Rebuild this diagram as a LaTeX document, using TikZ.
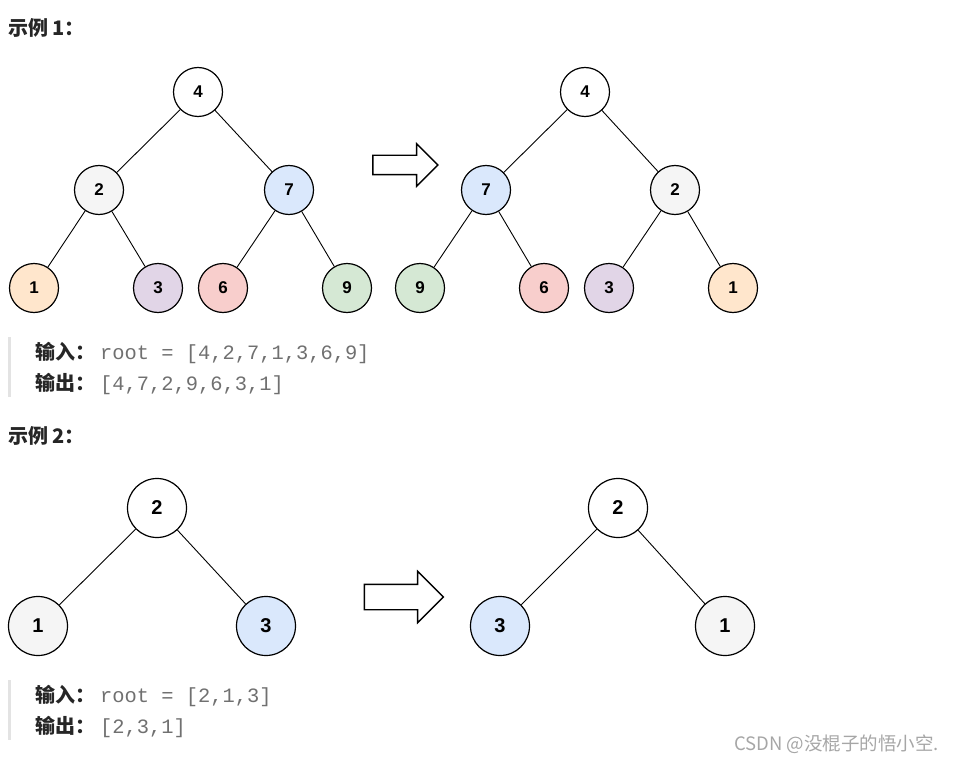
\documentclass[tikz,border=0pt]{standalone}
\usepackage{fontspec}
\setmainfont{Liberation Sans}
\setmonofont{Liberation Mono}
\newfontfamily\cjkfont{Noto Sans CJK SC}
\usetikzlibrary{shapes.arrows,positioning}
\definecolor{nGray}{HTML}{F5F5F5}
\definecolor{nBlue}{HTML}{DAE8FC}
\definecolor{nOrange}{HTML}{FFE6CC}
\definecolor{nPurple}{HTML}{E1D5E7}
\definecolor{nRed}{HTML}{F8CECC}
\definecolor{nGreen}{HTML}{D5E8D4}
\definecolor{titleText}{HTML}{262626}
\definecolor{codeText}{HTML}{707070}
\definecolor{barGray}{HTML}{E3E3E3}
\definecolor{markGray}{HTML}{A6A6A6}
\begin{document}
\begin{tikzpicture}[x=1pt,y=-1pt,
    tnode/.style={circle,draw,line width=1.2pt,minimum size=49pt,inner sep=0pt,font=\bfseries\fontsize{17}{17}\selectfont},
    bignode/.style={tnode,minimum size=59pt,font=\bfseries\fontsize{20}{20}\selectfont},
    edge/.style={line width=0.9pt},
    bigarrow/.style={single arrow,draw,line width=1.4pt,fill=white,inner xsep=0pt,single arrow head indent=0pt},
    title/.style={anchor=base west,inner sep=0pt,font=\cjkfont\bfseries\fontsize{20}{20}\selectfont,text=titleText},
    label/.style={anchor=base west,inner sep=0pt,font=\cjkfont\bfseries\fontsize{20}{20}\selectfont,text=titleText},
    code/.style={anchor=base west,inner sep=0pt,font=\ttfamily\fontsize{20.4}{20.4}\selectfont,text=codeText},
    quotebar/.style={fill=barGray}
]
    \useasboundingbox (0,0) rectangle (968,762);

    % example 1
    \node[title] (t1) at (8,36) {示例 1：};

    \node[tnode] (a4) at (198,92) {4};
    \node[tnode,fill=nGray] (a2) at (99,190) {2};
    \node[tnode,fill=nBlue] (a7) at (289,190) {7};
    \node[tnode,fill=nOrange] (a1) at (34,288) {1};
    \node[tnode,fill=nPurple] (a3) at (158,288) {3};
    \node[tnode,fill=nRed] (a6) at (223,288) {6};
    \node[tnode,fill=nGreen] (a9) at (347,288) {9};
    \foreach \p/\c in {a4/a2,a4/a7,a2/a1,a2/a3,a7/a6,a7/a9}
        \draw[edge] (\p) -- (\c);

    \node[bigarrow,minimum height=65pt,inner ysep=9pt,single arrow head extend=11.5pt] (arr1) at (400.5,165) {};

    \node[tnode] (b4) at (585,92) {4};
    \node[tnode,fill=nBlue] (b7) at (486,190) {7};
    \node[tnode,fill=nGray] (b2) at (675,190) {2};
    \node[tnode,fill=nGreen] (b9) at (420,288) {9};
    \node[tnode,fill=nRed] (b6) at (544,288) {6};
    \node[tnode,fill=nPurple] (b3) at (609,288) {3};
    \node[tnode,fill=nOrange] (b1) at (733,288) {1};
    \foreach \p/\c in {b4/b7,b4/b2,b7/b9,b7/b6,b2/b3,b2/b1}
        \draw[edge] (\p) -- (\c);

    \fill[quotebar] (8,337) rectangle (11,397);
    \node[label] (in1) at (35,359) {输入：};
    \node[code] (in1c) at (100,359) {root = [4,2,7,1,3,6,9]};
    \node[label] (out1) at (35,390) {输出：};
    \node[code] (out1c) at (100,390) {[4,7,2,9,6,3,1]};

    % example 2
    \node[title] (t2) at (8,443) {示例 2：};

    \node[bignode] (c2) at (157,508) {2};
    \node[bignode,fill=nGray] (c1) at (38,626) {1};
    \node[bignode,fill=nBlue] (c3) at (266,626) {3};
    \draw[edge] (c2) -- (c1);
    \draw[edge] (c2) -- (c3);

    \node[bigarrow,minimum height=79pt,inner ysep=12pt,single arrow head extend=13pt] (arr2) at (397.5,597) {};

    \node[bignode] (d2) at (618,508) {2};
    \node[bignode,fill=nBlue] (d3) at (500,626) {3};
    \node[bignode,fill=nGray] (d1) at (725,626) {1};
    \draw[edge] (d2) -- (d3);
    \draw[edge] (d2) -- (d1);

    \fill[quotebar] (8,680) rectangle (11,740);
    \node[label] (in2) at (35,702) {输入：};
    \node[code] (in2c) at (100,702) {root = [2,1,3]};
    \node[label] (out2) at (35,733) {输出：};
    \node[code] (out2c) at (100,733) {[2,3,1]};

    \node[anchor=base west,inner sep=0pt,font=\cjkfont\fontsize{18.5}{18.5}\selectfont,text=markGray] (mark) at (734,750) {CSDN @没棍子的悟小空.};
\end{tikzpicture}
\end{document}
